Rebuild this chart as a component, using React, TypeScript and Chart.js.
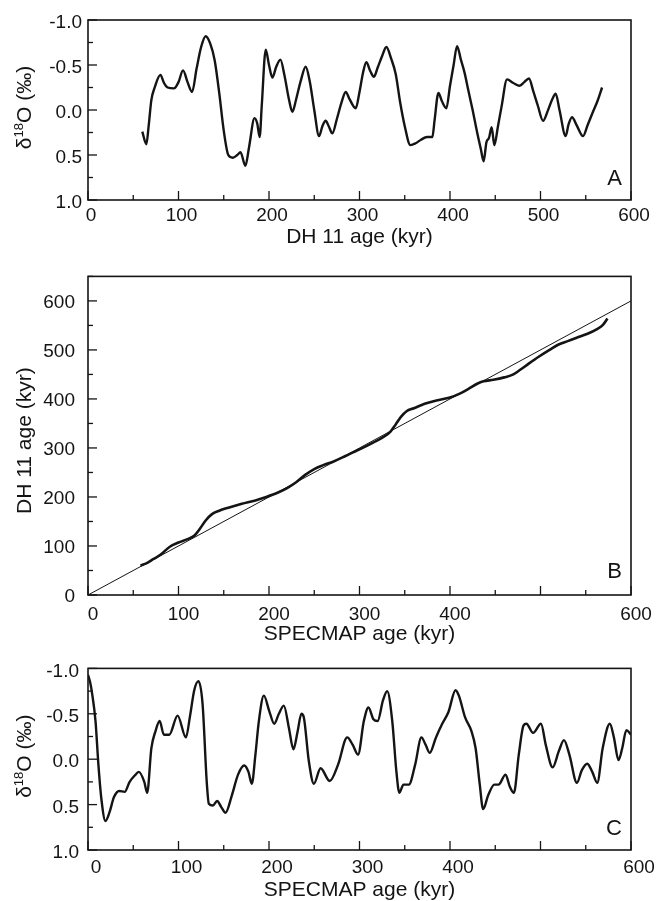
import React, { useEffect, useRef } from 'react';
import { Chart, registerables } from 'chart.js';

Chart.register(...registerables);

const FONT = '"Liberation Sans", Arial, Helvetica, sans-serif';
const INK = '#141414';

// ---------- Panel A : DH 11 d18O vs DH 11 age ----------
const dhAgeA = [60, 64.5, 67, 70, 74, 80, 84, 88, 95, 100, 105, 110, 115, 120, 125, 130, 135, 140, 145, 150, 155, 160, 165, 168.5, 173.9, 178, 184, 187, 189.7, 192, 196.4, 200, 203.7, 208, 212.6, 217, 222, 225.8, 230, 235, 240.5, 245, 250, 255.3, 259, 262.6, 266, 270, 275, 280, 284.8, 289, 295.8, 300, 304, 307.6, 312, 316, 320, 325, 329.7, 335, 340, 345, 350, 356.2, 362, 368, 374.6, 380.5, 383, 387.2, 391, 396, 400, 404, 407.8, 412, 416.2, 420, 425, 430, 434, 437.2, 440.2, 443.1, 446, 449, 453, 457, 463, 470, 477, 482, 487.3, 492, 497, 502.8, 508, 513, 516.8, 521, 527.8, 531, 534.8, 540, 547, 552, 558, 563, 568];
const d18oA = [0.24, 0.38, 0.18, -0.11, -0.26, -0.39, -0.30, -0.25, -0.24, -0.31, -0.44, -0.31, -0.20, -0.46, -0.70, -0.82, -0.74, -0.55, -0.19, 0.23, 0.50, 0.53, 0.50, 0.47, 0.62, 0.41, 0.09, 0.15, 0.30, -0.05, -0.67, -0.50, -0.36, -0.48, -0.56, -0.39, -0.12, 0.02, -0.12, -0.32, -0.48, -0.32, 0.00, 0.29, 0.18, 0.12, 0.18, 0.26, 0.10, -0.08, -0.20, -0.12, -0.02, -0.20, -0.42, -0.53, -0.43, -0.37, -0.47, -0.60, -0.70, -0.57, -0.40, -0.08, 0.18, 0.39, 0.37, 0.33, 0.30, 0.30, 0.11, -0.19, -0.10, -0.02, -0.27, -0.50, -0.71, -0.56, -0.41, -0.23, 0.00, 0.25, 0.43, 0.57, 0.36, 0.31, 0.19, 0.39, 0.18, -0.04, -0.34, -0.30, -0.27, -0.31, -0.35, -0.21, -0.05, 0.12, 0.01, -0.12, -0.18, 0.00, 0.29, 0.16, 0.08, 0.17, 0.29, 0.17, 0.02, -0.10, -0.25];

// ---------- Panel B : DH 11 age vs SPECMAP age ----------
const specmapAgeB = [58, 65, 72, 80, 90, 100, 110, 118, 124, 130, 137, 145, 155, 170, 185, 197, 210, 220, 230, 240, 250, 260, 272, 285, 300, 315, 327, 334, 340, 346, 352, 360, 372, 385, 400, 412, 420, 430, 437, 448, 460, 470, 478, 487, 498, 510, 520, 530, 540, 552, 562, 569, 574];
const dhAgeB = [60, 65, 73, 82, 98, 107, 114, 122, 136, 152, 165, 172, 178, 186, 193, 200, 209, 218, 230, 245, 257, 265, 273, 284, 297, 311, 323, 333, 348, 364, 375, 381, 390, 397, 403, 412, 420, 431, 436, 439, 444, 450, 460, 472, 486, 500, 511, 518, 525, 533, 542, 551, 564];
const oneToOneAge = [0, 600];

// ---------- Panel C : SPECMAP d18O vs SPECMAP age ----------
const specmapAgeC = [0, 2.3, 4.6, 8.3, 11.5, 14.7, 19.3, 23.9, 28.6, 34.5, 40.5, 46, 51.6, 56.2, 62.2, 65.4, 70, 74.6, 79.2, 83.8, 89.8, 99, 108.2, 112.8, 117.4, 122, 126.6, 131.2, 133.5, 138.1, 142.7, 147.4, 152, 158.9, 165.8, 172.7, 177.3, 181, 185, 188.8, 194.3, 200.3, 205.8, 210.9, 216.4, 221.9, 227, 231.5, 235.8, 238.5, 244, 249.6, 257, 267.1, 276.3, 286.4, 292.4, 298.4, 304.8, 309.9, 315.4, 320, 326, 330.6, 336.2, 340.8, 344, 348.6, 354.6, 361.5, 368.4, 373, 377.6, 384.5, 391.4, 398.3, 406.1, 409.8, 416.7, 423.7, 428.3, 432.9, 436.6, 442.1, 449, 453.6, 461.4, 466, 470.6, 476, 481.2, 484.4, 491.8, 500.5, 506, 513.4, 520.3, 525.9, 531.9, 540.2, 545.7, 551.7, 557.2, 562.7, 568.7, 576.6, 581.1, 586.2, 590.3, 594.9, 600];
const d18oC = [-0.93, -0.85, -0.72, -0.42, 0.06, 0.43, 0.68, 0.58, 0.42, 0.35, 0.36, 0.25, 0.18, 0.14, 0.25, 0.37, -0.12, -0.31, -0.42, -0.27, -0.27, -0.48, -0.24, -0.48, -0.76, -0.86, -0.61, 0.25, 0.49, 0.51, 0.46, 0.53, 0.59, 0.40, 0.17, 0.07, 0.14, 0.27, -0.05, -0.42, -0.70, -0.53, -0.39, -0.50, -0.59, -0.35, -0.11, -0.30, -0.50, -0.46, 0.02, 0.27, 0.10, 0.24, 0.06, -0.24, -0.16, -0.05, -0.42, -0.57, -0.44, -0.42, -0.65, -0.75, -0.42, 0.14, 0.37, 0.28, 0.28, 0.06, -0.24, -0.16, -0.07, -0.24, -0.39, -0.52, -0.76, -0.70, -0.46, -0.31, -0.12, 0.28, 0.55, 0.40, 0.28, 0.28, 0.17, 0.30, 0.37, -0.05, -0.37, -0.39, -0.29, -0.39, -0.15, 0.09, -0.09, -0.21, -0.05, 0.26, 0.12, 0.05, 0.14, 0.26, -0.12, -0.39, -0.24, 0.01, -0.12, -0.32, -0.27];

// ---------- Tick labels & texts ----------
const xTickLabelsA = ['0', '100', '200', '300', '400', '500', '600'];
const xTickLabelsBC = ['0', '100', '200', '300', '400', '600'];
const yTickLabelsDelta = ['-1.0', '-0.5', '0.0', '0.5', '1.0'];
const yTickLabelsAge = ['0', '100', '200', '300', '400', '500', '600'];
const xTitleA = 'DH 11 age (kyr)';
const xTitleBC = 'SPECMAP age (kyr)';
const yTitleDelta = ['δ', '18', 'O (‰)'];
const yTitleAge = 'DH 11 age (kyr)';
const panelLetters = ['A', 'B', 'C'];

const isMult = (v: number, step: number) => Math.abs(v / step - Math.round(v / step)) < 1e-6;
const fmtDelta = (v: number) => (Math.abs(v) < 1e-9 ? '0.0' : v.toFixed(1));

const panelDecor = {
  id: 'panelDecor',
  afterDraw(chart: any, _args: any, o: any) {
    const { ctx, chartArea: a, scales } = chart;
    const xs = scales.x;
    const ys = scales.y;
    ctx.save();
    ctx.strokeStyle = INK;
    ctx.lineWidth = 1.3;
    for (const t of xs.ticks) {
      const px = xs.getPixelForValue(t.value);
      const len = isMult(t.value, o.xMajor) ? 9 : 5;
      ctx.beginPath();
      ctx.moveTo(px, a.bottom);
      ctx.lineTo(px, a.bottom - len);
      ctx.stroke();
    }
    for (const t of ys.ticks) {
      const py = ys.getPixelForValue(t.value);
      const len = isMult(t.value, o.yMajor) ? 9 : 5;
      ctx.beginPath();
      ctx.moveTo(a.left, py);
      ctx.lineTo(a.left + len, py);
      ctx.stroke();
    }
    ctx.lineWidth = 1.6;
    ctx.strokeRect(a.left, a.top, a.right - a.left, a.bottom - a.top);

    ctx.fillStyle = INK;
    ctx.font = `${o.letterSize}px ${FONT}`;
    ctx.textAlign = 'right';
    ctx.textBaseline = 'alphabetic';
    ctx.fillText(o.letter, a.right - 9, a.bottom - o.letterLift);

    ctx.translate(o.yTitleX, (a.top + a.bottom) / 2 + o.yTitleShift);
    ctx.rotate(-Math.PI / 2);
    ctx.textAlign = 'left';
    const parts: [string, number, number][] =
      o.yTitle === 'delta'
        ? [[yTitleDelta[0], 21, 0], [yTitleDelta[1], 13, 8], [yTitleDelta[2], 21, 0]]
        : [[yTitleAge, 21, 0]];
    let total = 0;
    const widths = parts.map(([t, s]) => {
      ctx.font = `${s}px ${FONT}`;
      const w = ctx.measureText(t).width;
      total += w;
      return w;
    });
    let x = -total / 2;
    parts.forEach(([t, s, rise], i) => {
      ctx.font = `${s}px ${FONT}`;
      ctx.fillText(t, x, -rise);
      x += widths[i];
    });
    ctx.restore();
  },
};

type Spec = {
  datasets: any[];
  padTop: number;
  xAxisH: number;
  xLabels: string[];
  xTitle: string;
  xPad: number;
  xLabelOffset: number;
  xTitlePadBottom: number;
  yMin: number;
  yMax: number;
  yStep: number;
  yMajor: number;
  yReverse: boolean;
  yLabels: string[];
  yFmt: (v: number) => string;
  yPad: number;
  yLabelOffset: number;
  yTitle: string;
  yTitleShift: number;
  letter: string;
  letterLift: number;
};

function buildConfig(s: Spec): any {
  const tickFont = { family: FONT, size: 19 };
  return {
    type: 'line',
    data: { datasets: s.datasets },
    options: {
      responsive: false,
      animation: false,
      devicePixelRatio: 1,
      events: [],
      layout: { padding: { top: s.padTop, right: 25, bottom: 0, left: 0 } },
      plugins: {
        legend: { display: false },
        tooltip: { enabled: false },
        panelDecor: {
          xMajor: 100,
          yMajor: s.yMajor,
          letter: s.letter,
          letterSize: 22,
          letterLift: s.letterLift,
          yTitle: s.yTitle,
          yTitleX: 30.5,
          yTitleShift: s.yTitleShift,
        },
      },
      scales: {
        x: {
          type: 'linear',
          min: 0,
          max: 600,
          ticks: {
            stepSize: 50,
            autoSkip: false,
            maxRotation: 0,
            minRotation: 0,
            padding: s.xPad,
            labelOffset: s.xLabelOffset,
            font: tickFont,
            color: INK,
            callback: (v: number) => (s.xLabels.includes(String(v)) ? String(v) : ''),
          },
          grid: { display: false, drawTicks: false },
          border: { display: false },
          title: {
            display: true,
            text: s.xTitle,
            color: INK,
            font: { family: FONT, size: 21, lineHeight: 1 },
            padding: { top: 0, bottom: s.xTitlePadBottom },
          },
          afterFit: (sc: any) => {
            sc.height = s.xAxisH;
          },
        },
        y: {
          type: 'linear',
          min: s.yMin,
          max: s.yMax,
          reverse: s.yReverse,
          ticks: {
            stepSize: s.yStep,
            autoSkip: false,
            padding: s.yPad,
            labelOffset: s.yLabelOffset,
            font: tickFont,
            color: INK,
            callback: (v: number) => {
              const t = s.yFmt(v);
              return s.yLabels.includes(t) ? t : '';
            },
          },
          grid: { display: false, drawTicks: false },
          border: { display: false },
          afterFit: (sc: any) => {
            sc.width = 88;
          },
        },
      },
    },
    plugins: [panelDecor],
  };
}

const lineStyle = {
  borderColor: INK,
  borderWidth: 2.4,
  pointRadius: 0,
  fill: false,
  cubicInterpolationMode: 'monotone',
};

const pts = (xs: number[], ys: number[]) => xs.map((x, i) => ({ x, y: ys[i] }));

const specA: Spec = {
  datasets: [{ ...lineStyle, data: pts(dhAgeA, d18oA) }],
  padTop: 20,
  xAxisH: 52,
  xLabels: xTickLabelsA,
  xTitle: xTitleA,
  xPad: 4,
  xLabelOffset: 3,
  xTitlePadBottom: 4,
  yMin: -1,
  yMax: 1,
  yStep: 0.25,
  yMajor: 0.5,
  yReverse: true,
  yLabels: yTickLabelsDelta,
  yFmt: fmtDelta,
  yPad: 6,
  yLabelOffset: 3,
  yTitle: 'delta',
  yTitleShift: -2.5,
  letter: panelLetters[0],
  letterLift: 15,
};

const specB: Spec = {
  datasets: [
    { ...lineStyle, borderWidth: 2.6, data: pts(specmapAgeB, dhAgeB) },
    { ...lineStyle, borderWidth: 1, cubicInterpolationMode: 'default', data: pts(oneToOneAge, oneToOneAge) },
  ],
  padTop: 23,
  xAxisH: 53,
  xLabels: xTickLabelsBC,
  xTitle: xTitleBC,
  xPad: 8,
  xLabelOffset: 5,
  xTitlePadBottom: 3,
  yMin: 0,
  yMax: 650,
  yStep: 50,
  yMajor: 100,
  yReverse: false,
  yLabels: yTickLabelsAge,
  yFmt: (v: number) => String(v),
  yPad: 13,
  yLabelOffset: 2,
  yTitle: 'age',
  yTitleShift: 5,
  letter: panelLetters[1],
  letterLift: 17,
};

const specC: Spec = {
  datasets: [{ ...lineStyle, data: pts(specmapAgeC, d18oC) }],
  padTop: 20,
  xAxisH: 51,
  xLabels: xTickLabelsBC,
  xTitle: xTitleBC,
  xPad: 6.5,
  xLabelOffset: 8,
  xTitlePadBottom: 0,
  yMin: -1,
  yMax: 1,
  yStep: 0.25,
  yMajor: 0.5,
  yReverse: true,
  yLabels: yTickLabelsDelta,
  yFmt: fmtDelta,
  yPad: 9,
  yLabelOffset: 3,
  yTitle: 'delta',
  yTitleShift: -3,
  letter: panelLetters[2],
  letterLift: 15,
};

function Panel({ top, height, spec }: { top: number; height: number; spec: Spec }) {
  const ref = useRef<HTMLCanvasElement>(null);
  useEffect(() => {
    if (!ref.current) return;
    const chart = new Chart(ref.current, buildConfig(spec));
    return () => chart.destroy();
  }, [spec]);
  return (
    <canvas
      ref={ref}
      width={656}
      height={height}
      style={{ position: 'absolute', left: 0, top, width: 656, height, display: 'block' }}
    />
  );
}

export default function App() {
  return (
    <div style={{ position: 'fixed', left: 0, top: 0, width: 656, height: 901, background: '#fff', overflow: 'hidden' }}>
      <Panel top={0} height={252} spec={specA} />
      <Panel top={252} height={396} spec={specB} />
      <Panel top={648} height={253} spec={specC} />
    </div>
  );
}
